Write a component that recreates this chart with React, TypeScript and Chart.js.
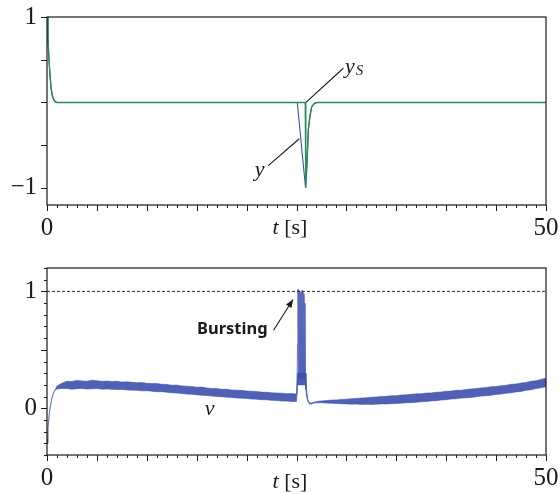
import React, { useEffect, useRef } from "react";
import { Chart, registerables } from "chart.js";
Chart.register(...registerables);

// ---------- data ----------
const tMin = 0;
const tMax = 50;
const xLabelValues = [0, 50];
const topYLabelValues = [1, -1];
const bottomYLabelValues = [0, 1];
const topYRange = [-1.2, 1];
const bottomYRange = [-0.4, 1.2];
const threshold = 1;

// y (blue) and y_S (green), top panel
const yTimes = [0, 0.1, 0.2, 0.3, 0.4, 0.5, 0.6, 0.8, 1.0, 25.08, 25.9, 25.98, 26.08, 26.18, 26.35, 26.52, 26.8, 27.1, 50];
const yValues = [1, 0.75, 0.5, 0.32, 0.18, 0.1, 0.05, 0.01, 0, 0, -0.99, -0.87, -0.63, -0.32, -0.16, -0.05, -0.01, 0, 0];
const ySTimes = [0, 0.1, 0.2, 0.3, 0.4, 0.5, 0.6, 0.8, 1.0, 25.88, 25.93, 25.98, 26.08, 26.18, 26.35, 26.52, 26.8, 27.1, 50];
const ySValues = [1, 0.75, 0.5, 0.32, 0.18, 0.1, 0.05, 0.01, 0, 0, -1.0, -0.87, -0.63, -0.32, -0.16, -0.05, -0.01, 0, 0];

// v (blue), bottom panel: upper / lower edge of the noisy trace
const vTimes = [
  0, 0.1, 0.2, 0.3, 0.45, 0.6, 0.8, 1.0,
  1.5, 2.0, 2.5, 3.0, 3.5, 4.0, 4.5, 5.0, 5.5, 6.0, 6.5, 7.0, 7.5, 8.0, 8.5, 9.0, 9.5, 10.0,
  10.5, 11.0, 11.5, 12.0, 12.5, 13.0, 13.5, 14.0, 14.5, 15.0, 15.5, 16.0, 16.5, 17.0, 17.5, 18.0,
  18.5, 19.0, 19.5, 20.0, 20.5, 21.0, 21.5, 22.0, 22.5, 23.0, 23.5, 24.0, 24.5, 25.0,
  25.1, 25.9, 26.0, 26.15, 26.3, 26.5, 26.75, 27.0, 27.5, 28.0, 28.5, 29.0, 29.5, 30.0,
  30.5, 31.0, 31.5, 32.0, 32.5, 33.0, 33.5, 34.0, 34.5, 35.0, 35.5, 36.0, 36.5, 37.0, 37.5, 38.0,
  38.5, 39.0, 39.5, 40.0, 40.5, 41.0, 41.5, 42.0, 42.5, 43.0, 43.5, 44.0, 44.5, 45.0, 45.5, 46.0,
  46.5, 47.0, 47.5, 48.0, 48.5, 49.0, 49.5, 50.0,
];
const vUpper = [
  -0.3, -0.17, -0.07, 0.0, 0.07, 0.12, 0.155, 0.19,
  0.214, 0.232, 0.229, 0.238, 0.234, 0.231, 0.24, 0.236, 0.23, 0.233, 0.229, 0.231, 0.224, 0.226, 0.222, 0.219, 0.221, 0.213,
  0.211, 0.212, 0.205, 0.204, 0.197, 0.198, 0.191, 0.189, 0.186, 0.18, 0.181, 0.173, 0.17, 0.169, 0.162, 0.163,
  0.156, 0.155, 0.153, 0.147, 0.146, 0.143, 0.138, 0.137, 0.132, 0.131, 0.129, 0.124, 0.126, 0.121,
  0.3, 0.3, 0.16, 0.07, 0.045, 0.045, 0.052, 0.058, 0.063, 0.066, 0.07, 0.071, 0.075, 0.078,
  0.081, 0.084, 0.087, 0.089, 0.095, 0.096, 0.101, 0.102, 0.107, 0.108, 0.113, 0.115, 0.119, 0.123, 0.124, 0.13,
  0.131, 0.137, 0.139, 0.145, 0.147, 0.153, 0.154, 0.161, 0.165, 0.168, 0.174, 0.177, 0.184, 0.186, 0.193, 0.197,
  0.205, 0.208, 0.216, 0.221, 0.231, 0.236, 0.247, 0.256,
];
const vLower = [
  -0.3, -0.17, -0.07, 0.0, 0.07, 0.12, 0.155, 0.165,
  0.17, 0.168, 0.163, 0.167, 0.17, 0.164, 0.166, 0.169, 0.163, 0.165, 0.162, 0.16, 0.161, 0.157, 0.155, 0.154, 0.149, 0.15,
  0.146, 0.141, 0.142, 0.136, 0.133, 0.13, 0.127, 0.121, 0.12, 0.115, 0.111, 0.109, 0.104, 0.101, 0.098, 0.094,
  0.093, 0.088, 0.086, 0.083, 0.079, 0.078, 0.073, 0.072, 0.068, 0.066, 0.062, 0.061, 0.058, 0.058,
  0.2, 0.2, 0.1, 0.055, 0.036, 0.036, 0.044, 0.046, 0.047, 0.044, 0.043, 0.04, 0.038, 0.037,
  0.035, 0.036, 0.033, 0.034, 0.033, 0.035, 0.037, 0.036, 0.039, 0.041, 0.043, 0.047, 0.048, 0.051, 0.056, 0.058,
  0.063, 0.065, 0.071, 0.073, 0.079, 0.081, 0.087, 0.089, 0.093, 0.098, 0.104, 0.107, 0.111, 0.118, 0.121, 0.128,
  0.132, 0.14, 0.144, 0.153, 0.158, 0.168, 0.175, 0.184,
];

// bursting spikes
const burstTimes = [25.05, 25.1, 25.15, 25.2, 25.25, 25.3, 25.35, 25.4, 25.45, 25.5, 25.55, 25.6, 25.65, 25.7, 25.75, 25.8, 25.85, 25.9, 25.95];
const burstValues = [0.12, 0.55, 1.02, 0.24, 1.01, 0.27, 1.0, 0.25, 0.99, 0.26, 1.01, 0.24, 1.0, 0.27, 0.98, 0.26, 0.9, 0.3, 0.16];

// annotation anchors (data units)
const ySLeader = { from: [25.95, 0.0], to: [29.69, 0.4] };
const ySText = [29.85, 0.41];
const yLeader = { from: [25.28, -0.425], to: [22.17, -0.74] };
const yText = [21.8, -0.79];
const vText = [16.3, -0.01];
const burstArrow = { from: [22.7, 0.668], to: [24.65, 0.93] };
const burstText = [22.1, 0.675];
const xTitleAt = 22.6;

// ---------- style ----------
const BLUE = "#3b50ac";
const GREEN = "#2b8c5b";
const INK = "#1a1a1a";
const SERIF = '"Liberation Serif", "DejaVu Serif", serif';
const SANS = '"Noto Sans", "Open Sans", sans-serif';

const pts = (ts: number[], vs: number[]) => ts.map((t, i) => ({ x: t, y: vs[i] }));

function drawTickMarks(chart: any, yMinor: number, yMajor: number) {
  const { ctx, chartArea: a, scales } = chart;
  const x = scales.x;
  const y = scales.y;
  ctx.save();
  ctx.strokeStyle = INK;
  ctx.lineWidth = 1;
  ctx.beginPath();
  for (let k = Math.ceil(tMin - 1e-9); k <= tMax + 1e-9; k += 1) {
    const px = Math.round(x.getPixelForValue(k)) + 0.5;
    const len = k % 5 === 0 ? 6 : 3;
    ctx.moveTo(px, a.bottom);
    ctx.lineTo(px, a.bottom + len);
  }
  const lo = y.min, hi = y.max;
  for (let k = Math.ceil(lo / yMinor - 1e-6); k * yMinor <= hi + 1e-9; k++) {
    const v = k * yMinor;
    const r = v / yMajor;
    const major = Math.abs(r - Math.round(r)) < 1e-6;
    const py = Math.round(y.getPixelForValue(v)) + 0.5;
    ctx.moveTo(a.left, py);
    ctx.lineTo(a.left - (major ? 6 : 3), py);
  }
  ctx.stroke();
  ctx.lineWidth = 1.2;
  ctx.strokeRect(a.left, a.top, a.right - a.left, a.bottom - a.top);
  ctx.restore();
}

function drawXTitle(chart: any, dy: number) {
  const { ctx, chartArea: a, scales } = chart;
  const px = scales.x.getPixelForValue(xTitleAt);
  const py = a.bottom + dy;
  ctx.save();
  ctx.fillStyle = INK;
  ctx.textBaseline = "middle";
  ctx.textAlign = "left";
  ctx.font = `italic 22px ${SERIF}`;
  ctx.fillText("t", px, py);
  const w = ctx.measureText("t").width;
  ctx.font = `22px ${SERIF}`;
  ctx.fillText(" [s]", px + w, py);
  ctx.restore();
}

function line(chart: any, from: number[], to: number[], arrow = false) {
  const { ctx, scales } = chart;
  const x1 = scales.x.getPixelForValue(from[0]);
  const y1 = scales.y.getPixelForValue(from[1]);
  const x2 = scales.x.getPixelForValue(to[0]);
  const y2 = scales.y.getPixelForValue(to[1]);
  ctx.save();
  ctx.strokeStyle = INK;
  ctx.fillStyle = INK;
  ctx.lineWidth = 1.1;
  ctx.beginPath();
  ctx.moveTo(x1, y1);
  ctx.lineTo(x2, y2);
  ctx.stroke();
  if (arrow) {
    const ang = Math.atan2(y2 - y1, x2 - x1);
    const L = 8, W = 3.2;
    ctx.beginPath();
    ctx.moveTo(x2, y2);
    ctx.lineTo(x2 - L * Math.cos(ang) + W * Math.sin(ang), y2 - L * Math.sin(ang) - W * Math.cos(ang));
    ctx.lineTo(x2 - L * Math.cos(ang) - W * Math.sin(ang), y2 - L * Math.sin(ang) + W * Math.cos(ang));
    ctx.closePath();
    ctx.fill();
  }
  ctx.restore();
}

function text(chart: any, at: number[], s: string, font: string, align: CanvasTextAlign = "left") {
  const { ctx, scales } = chart;
  const px = scales.x.getPixelForValue(at[0]);
  const py = scales.y.getPixelForValue(at[1]);
  ctx.save();
  ctx.fillStyle = INK;
  ctx.font = font;
  ctx.textAlign = align;
  ctx.textBaseline = "middle";
  ctx.fillText(s, px, py);
  const w = ctx.measureText(s).width;
  ctx.restore();
  return { px, py, w };
}

const noPad = (s: any) => {
  s.paddingTop = 0;
  s.paddingBottom = 0;
  s.paddingLeft = 0;
  s.paddingRight = 0;
};

function baseOptions(yRange: number[], yLabels: number[], padTop: number, xHeight: number, right: number) {
  const tickFont = { family: SERIF, size: 25 };
  return {
    responsive: false,
    animation: false as const,
    devicePixelRatio: 1,
    events: [] as any[],
    layout: { padding: { top: padTop, right, left: 0, bottom: 0 } },
    plugins: { legend: { display: false }, tooltip: { enabled: false } },
    elements: { point: { radius: 0 }, line: { tension: 0 } },
    scales: {
      x: {
        type: "linear" as const,
        min: tMin,
        max: tMax,
        afterBuildTicks: (s: any) => { s.ticks = xLabelValues.map((v) => ({ value: v })); },
        afterFit: (s: any) => { s.height = xHeight; noPad(s); },
        grid: { display: false, drawTicks: false },
        border: { display: false },
        ticks: { font: tickFont, color: INK, padding: 8, maxRotation: 0, autoSkip: false, callback: (v: any) => String(v) },
      },
      y: {
        type: "linear" as const,
        min: yRange[0],
        max: yRange[1],
        afterBuildTicks: (s: any) => { s.ticks = yLabels.map((v) => ({ value: v })); },
        afterFit: (s: any) => { s.width = 47; noPad(s); },
        grid: { display: false, drawTicks: false },
        border: { display: false },
        ticks: { font: tickFont, color: INK, padding: 10, callback: (v: any) => (v < 0 ? "\u2212" + Math.abs(v) : String(v)) },
      },
    },
  };
}

export default function App() {
  const topRef = useRef<HTMLCanvasElement>(null);
  const botRef = useRef<HTMLCanvasElement>(null);

  useEffect(() => {
    const top = new Chart(topRef.current!, {
      type: "line",
      data: {
        datasets: [
          { data: pts(ySTimes, ySValues), borderColor: GREEN, borderWidth: 1.4, pointRadius: 0, fill: false },
          { data: pts(yTimes, yValues), borderColor: BLUE, borderWidth: 1.1, pointRadius: 0, fill: false },
        ],
      },
      options: baseOptions(topYRange, topYLabelValues, 17, 42, 14) as any,
      plugins: [
        {
          id: "frameTop",
          afterDatasetsDraw(chart: any) {
            drawTickMarks(chart, 0.5, 0.5);
            drawXTitle(chart, 23);
            line(chart, ySLeader.from, ySLeader.to);
            const r = text(chart, ySText, "y", `italic 22px ${SERIF}`);
            const { ctx } = chart;
            ctx.save();
            ctx.fillStyle = INK;
            ctx.font = `italic 15px ${SERIF}`;
            ctx.textBaseline = "middle";
            ctx.fillText("S", r.px + r.w + 1, r.py + 4);
            ctx.restore();
            line(chart, yLeader.from, yLeader.to);
            text(chart, yText, "y", `italic 22px ${SERIF}`, "right");
          },
        },
      ],
    });

    const bot = new Chart(botRef.current!, {
      type: "line",
      data: {
        datasets: [
          { data: pts([tMin, tMax], [threshold, threshold]), borderColor: INK, borderWidth: 0.9, borderDash: [3, 2], pointRadius: 0, fill: false },
          { data: pts(burstTimes, burstValues), borderColor: "rgba(59,80,172,0.75)", borderWidth: 1, pointRadius: 0, fill: false },
          { data: pts(vTimes, vUpper), borderColor: "rgba(59,80,172,0.55)", borderWidth: 1, pointRadius: 0, backgroundColor: "rgba(59,80,172,0.9)", fill: "+1" },
          { data: pts(vTimes, vLower), borderColor: "rgba(59,80,172,0.55)", borderWidth: 1, pointRadius: 0, fill: false },
        ],
      },
      options: baseOptions(bottomYRange, bottomYLabelValues, 21, 39, 14) as any,
      plugins: [
        {
          id: "frameBottom",
          afterDatasetsDraw(chart: any) {
            drawTickMarks(chart, 0.1, 0.5);
            drawXTitle(chart, 27);
            text(chart, vText, "v", `italic 22px ${SERIF}`, "center");
            text(chart, burstText, "Bursting", `bold 16.5px ${SANS}`, "right");
            line(chart, burstArrow.from, burstArrow.to, true);
          },
        },
      ],
    });

    return () => {
      top.destroy();
      bot.destroy();
    };
  }, []);

  return (
    <div style={{ position: "fixed", left: 0, top: 0, width: 560, height: 494, background: "#fff" }}>
      <canvas ref={topRef} width={560} height={247} style={{ position: "absolute", left: 0, top: 0, width: 560, height: 247 }} />
      <canvas ref={botRef} width={560} height={247} style={{ position: "absolute", left: 0, top: 247, width: 560, height: 247 }} />
    </div>
  );
}
